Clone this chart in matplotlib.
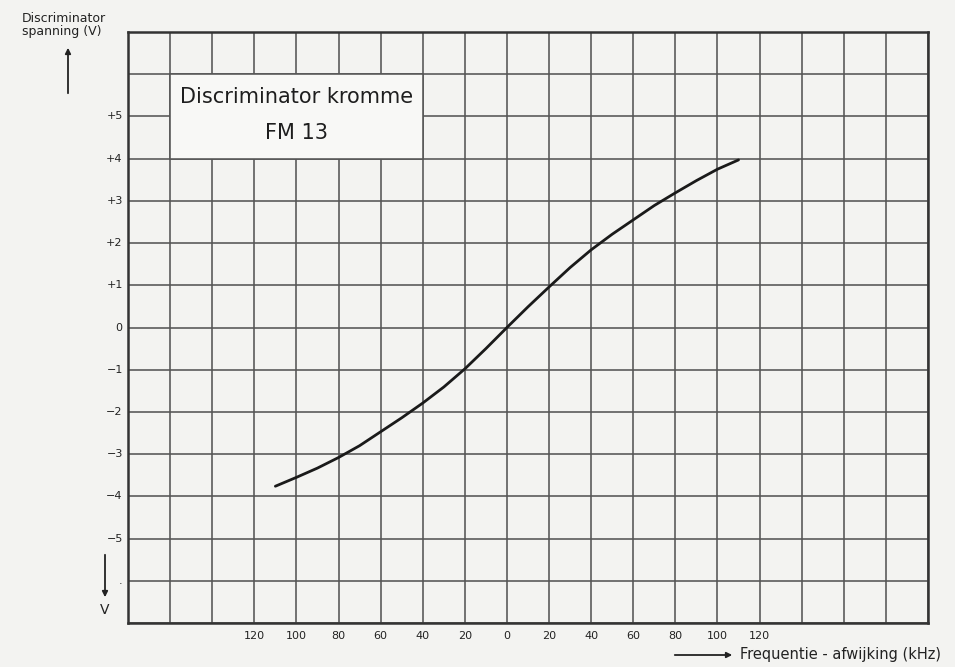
import matplotlib
matplotlib.use('Agg')
import matplotlib.pyplot as plt
from matplotlib.patches import Rectangle, FancyArrowPatch

# curve: frequency deviation (kHz) vs discriminator voltage (V)
freq_khz = [-110, -100, -90, -80, -70, -60, -50, -40, -30, -20, -10, 0,
            10, 20, 30, 40, 50, 60, 70, 80, 90, 100, 110]
volt = [-3.76, -3.55, -3.33, -3.08, -2.80, -2.47, -2.14, -1.79, -1.41, -0.98, -0.50, 0.0,
        0.49, 0.96, 1.42, 1.84, 2.21, 2.55, 2.89, 3.19, 3.48, 3.75, 3.97]

x_tick_vals = [-120, -100, -80, -60, -40, -20, 0, 20, 40, 60, 80, 100, 120]
x_tick_labels = ['120', '100', '80', '60', '40', '20', '0', '20', '40', '60', '80', '100', '120']
y_tick_vals = [5, 4, 3, 2, 1, 0, -1, -2, -3, -4, -5, -6]
y_tick_labels = ['+5', '+4', '+3', '+2', '+1', '0', '\u22121', '\u22122', '\u22123', '\u22124', '\u22125', '.']

title_lines = ['Discriminator kromme', 'FM 13']

grid_col = '#555555'
text_col = '#222222'
bg = '#f3f3f1'

fig = plt.figure(figsize=(9.55, 6.67), dpi=100, facecolor=bg)
ax = fig.add_axes([128 / 955, 1 - 623 / 667, 800 / 955, 591 / 667])
ax.set_facecolor(bg)
ax.set_xlim(-180, 200)
ax.set_ylim(-7, 7)

# grid every 20 kHz / 1 V
ax.set_xticks(range(-180, 201, 20))
ax.set_yticks(range(-7, 8))
ax.set_xticklabels([])
ax.set_yticklabels([])
ax.tick_params(length=0)
ax.grid(True, color=grid_col, linewidth=1.15, zorder=1)
ax.set_axisbelow(True)
for s in ax.spines.values():
    s.set_color('#333333')
    s.set_linewidth(1.8)

# tick labels as text
for v, lab in zip(x_tick_vals, x_tick_labels):
    ax.text(v, -7.3, lab, ha='center', va='center', fontsize=8, color=text_col,
            fontweight='medium')
for v, lab in zip(y_tick_vals, y_tick_labels):
    ax.text(-182.5, v, lab, ha='right', va='center', fontsize=8, color=text_col,
            fontweight='medium')

# title box covering part of the grid
box = Rectangle((-160, 4), 120, 2, facecolor='#f8f8f6', edgecolor=grid_col,
                linewidth=1.15, zorder=2)
ax.add_patch(box)
ax.text(-100, 5.45, title_lines[0], ha='center', va='center', fontsize=15,
        color='#1e1e1e', zorder=4)
ax.text(-100, 4.6, title_lines[1], ha='center', va='center', fontsize=15,
        color='#1e1e1e', zorder=4)

ax.plot(freq_khz, volt, color='#1a1a1a', linewidth=2.0, zorder=3,
        solid_capstyle='round', solid_joinstyle='round')

# axis captions and arrows (figure coordinates)
fig.text(22 / 955, 1 - 12 / 667, 'Discriminator\nspanning (V)', ha='left', va='top',
         fontsize=9, color=text_col, linespacing=0.95)
fig.add_artist(FancyArrowPatch(
    (68 / 955, 1 - 96 / 667), (68 / 955, 1 - 45 / 667), transform=fig.transFigure,
    arrowstyle='-|>', mutation_scale=8, color=text_col, linewidth=1.3))
fig.add_artist(FancyArrowPatch(
    (105 / 955, 1 - 552 / 667), (105 / 955, 1 - 600 / 667), transform=fig.transFigure,
    arrowstyle='-|>', mutation_scale=8, color=text_col, linewidth=1.3))
fig.text(105 / 955, 1 - 610 / 667, 'V', ha='center', va='center', fontsize=10, color=text_col)
fig.add_artist(FancyArrowPatch(
    (672 / 955, 1 - 655 / 667), (735 / 955, 1 - 655 / 667), transform=fig.transFigure,
    arrowstyle='-|>', mutation_scale=8, color=text_col, linewidth=1.3))
fig.text(740 / 955, 1 - 654 / 667, 'Frequentie - afwijking (kHz)', ha='left', va='center',
         fontsize=10.5, color=text_col)

fig.savefig('out.png', dpi=100, facecolor=bg)
